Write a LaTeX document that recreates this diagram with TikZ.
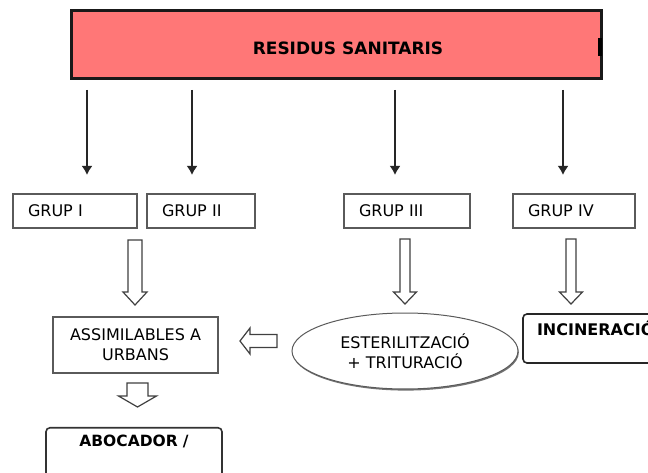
\documentclass[tikz,border=0pt]{standalone}
\usepackage{fontspec}
\setmainfont{DejaVu Sans}
\usetikzlibrary{arrows.meta,shadows,shapes.geometric}
\definecolor{topred}{RGB}{255,119,119}
\definecolor{edgegray}{RGB}{90,90,90}
\newcommand\harrowdown[6]{% x, ytop, ytip, shaft half, head half, head length
  \draw[hollow] (#1-#4,#2) -- (#1+#4,#2) -- (#1+#4,#3-#6) -- (#1+#5,#3-#6) -- (#1,#3)
    -- (#1-#5,#3-#6) -- (#1-#4,#3-#6) -- cycle;}
\newcommand\harrowleft[6]{% xtip, xtail, yc, shaft half, head half, head length
  \draw[hollow] (#2,#3-#4) -- (#2,#3+#4) -- (#1+#6,#3+#4) -- (#1+#6,#3+#5) -- (#1,#3)
    -- (#1+#6,#3-#5) -- (#1+#6,#3-#4) -- cycle;}
\begin{document}
\begin{tikzpicture}[x=1pt,y=-1pt,
  every node/.style={font=\fontsize{16}{20}\selectfont},
  topbox/.style={draw=black!90, line width=3pt, fill=topred, minimum width=530pt,
    inner ysep=0pt, text height=44pt, text depth=24pt,
    font=\bfseries\fontsize{17}{20}\selectfont},
  grupbox/.style={draw=edgegray, line width=1.2pt, fill=white, minimum height=34pt,
    inner xsep=15pt, align=left,
    drop shadow={shadow xshift=1.3pt, shadow yshift=-1.3pt, fill=black!70, opacity=1}},
  plainbox/.style={draw=edgegray, line width=1.2pt, fill=white, align=center,
    drop shadow={shadow xshift=1.3pt, shadow yshift=-1.3pt, fill=black!70, opacity=1}},
  endbox/.style={draw=black!85, line width=1.6pt, fill=white, rounded corners=4pt,
    align=left, inner ysep=4pt, font=\bfseries\fontsize{16}{20}\selectfont},
  procell/.style={draw=edgegray, line width=1pt, fill=white, ellipse,
    minimum width=226pt, minimum height=76pt, align=center, inner sep=0pt,
    drop shadow={shadow xshift=0.8pt, shadow yshift=-1.6pt, fill=black!55, opacity=1}},
  thinarrow/.style={line width=2.8pt, draw=black!85, -{Latex[length=9pt,width=11pt]}},
  hollow/.style={draw=black!75, line width=1.2pt, fill=white, line join=miter}
]
\useasboundingbox (0,0) rectangle (648,473);
\clip (0,0) rectangle (648,473);
\fill[white] (0,0) rectangle (648,473);

% top box
\node[topbox] (top) at (336,45) {\hspace*{24pt}RESIDUS SANITARIS};
\fill[black] (597.5,38) rectangle (602,56);

% group boxes
\node[grupbox, text width=94pt] (g1) at (75,211) {GRUP I};
\node[grupbox, text width=78pt] (g2) at (201,211) {GRUP II};
\node[grupbox, text width=96pt] (g3) at (407,211) {GRUP III};
\node[grupbox, text width=92pt] (g4) at (574,211) {GRUP IV};

% thin arrows from top box
\coordinate (s1) at (87,90);   \coordinate (e1) at (87,175);
\coordinate (s2) at (192,90);  \coordinate (e2) at (192,175);
\coordinate (s3) at (395,90);  \coordinate (e3) at (395,175);
\coordinate (s4) at (563,90);  \coordinate (e4) at (563,175);
\draw[thinarrow] (s1) -- (e1);
\draw[thinarrow] (s2) -- (e2);
\draw[thinarrow] (s3) -- (e3);
\draw[thinarrow] (s4) -- (e4);

% lower level
\node[plainbox, minimum width=165pt, minimum height=56pt] (assim) at (135.5,345)
  {ASSIMILABLES A\\URBANS};
\node[procell] (ester) at (405,351) {ESTERILITZACIÓ\\+ TRITURACIÓ};
\node[endbox, text width=129pt, inner xsep=14pt, text height=17pt, text depth=24pt]
  (incin) at (601.5,338.5) {INCINERACIÓ};
\node[endbox, draw=black!80, align=center, text width=148pt, inner xsep=14pt,
  text height=14.5pt, text depth=52pt, font=\bfseries\fontsize{15.5}{20}\selectfont]
  (aboc) at (134,465) {ABOCADOR /};

% hollow arrows
\harrowdown{135}{240}{305}{7}{12}{13}
\harrowdown{405}{239}{304}{5}{11.5}{12}
\harrowdown{571}{239}{304}{5}{11.5}{12}
\harrowleft{240}{277}{341}{6.5}{13}{10}
\harrowdown{137.5}{383}{407}{10.5}{19}{11}
\end{tikzpicture}
\end{document}
